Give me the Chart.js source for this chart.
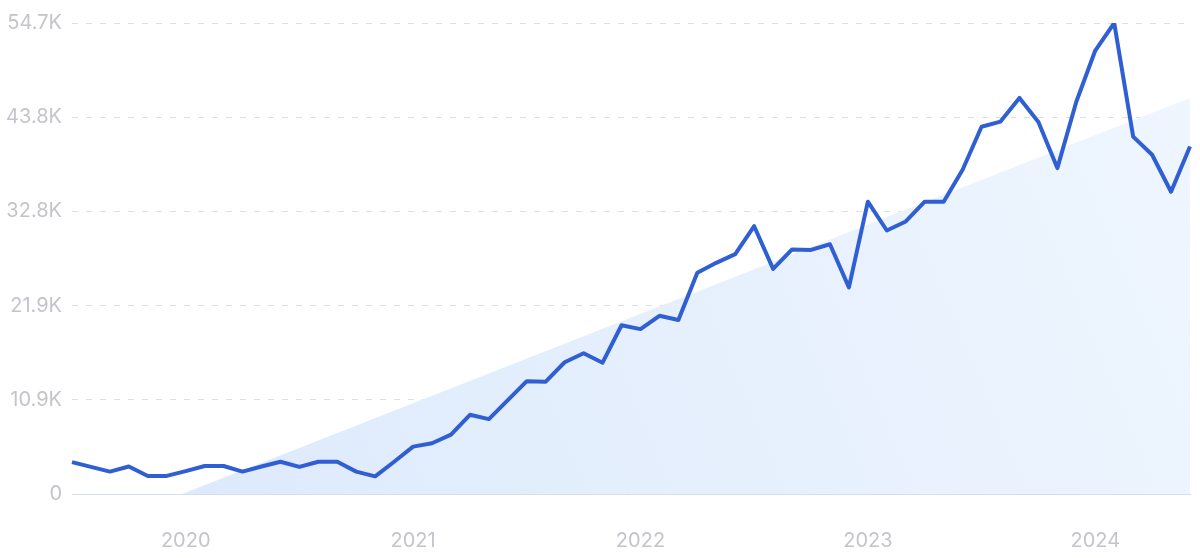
<!DOCTYPE html>
<html>
<head>
<meta charset="utf-8">
<script src="https://cdn.jsdelivr.net/npm/chart.js@4"></script>
<style>
    html, body { margin: 0; padding: 0; background: #ffffff; }
    #wrap { width: 1200px; height: 558px; }
</style>
</head>
<body>
<div id="wrap"><canvas id="trendChart" width="1200" height="558"></canvas></div>
<script>
// Monthly points, Jul 2019 .. Jun 2024
const months = [
    '2019-07', '2019-08', '2019-09', '2019-10', '2019-11', '2019-12',
    '2020-01', '2020-02', '2020-03', '2020-04', '2020-05', '2020-06',
    '2020-07', '2020-08', '2020-09', '2020-10', '2020-11', '2020-12',
    '2021-01', '2021-02', '2021-03', '2021-04', '2021-05', '2021-06',
    '2021-07', '2021-08', '2021-09', '2021-10', '2021-11', '2021-12',
    '2022-01', '2022-02', '2022-03', '2022-04', '2022-05', '2022-06',
    '2022-07', '2022-08', '2022-09', '2022-10', '2022-11', '2022-12',
    '2023-01', '2023-02', '2023-03', '2023-04', '2023-05', '2023-06',
    '2023-07', '2023-08', '2023-09', '2023-10', '2023-11', '2023-12',
    '2024-01', '2024-02', '2024-03', '2024-04', '2024-05', '2024-06'
];

// Search volume
const volume = [
    3700, 3150, 2600, 3200, 2100, 2100,
    2650, 3250, 3250, 2600, 3200, 3750,
    3150, 3750, 3750, 2600, 2050, 3750,
    5500, 5900, 6900, 9200, 8700, 10900,
    13100, 13050, 15300, 16350, 15250, 19600,
    19150, 20700, 20200, 25700, 26850, 27850,
    31100, 26150, 28400, 28350, 29000, 24000,
    33950, 30600, 31650, 33950, 33950, 37650,
    42650, 43250, 46000, 43200, 37850, 45550,
    51500, 54700, 41500, 39400, 35100, 40350
];

// Straight trend band: start and end
const trendMonths = ['2019-12', '2024-06'];
const trendValues = [-700, 46000];

const yTicks = [0, 10940, 21880, 32820, 43760, 54700];
const yTickLabels = ['0', '10.9K', '21.9K', '32.8K', '43.8K', '54.7K'];

const tickColor = '#c3c5cb';
const tickFont = { family: 'Inter', size: 20 };

const ctx = document.getElementById('trendChart').getContext('2d');
const trendChart = new Chart(ctx, {
    type: 'line',
    data: {
        labels: months,
        datasets: [{
            label: 'Volume',
            data: volume,
            borderColor: '#2f5fd3',
            borderWidth: 4,
            pointRadius: 0,
            tension: 0,
            fill: false,
            borderJoinStyle: 'round'
        }, {
            label: 'Trend',
            data: trendMonths.map((m, i) => ({ x: m, y: trendValues[i] })),
            borderWidth: 0,
            pointRadius: 0,
            tension: 0,
            fill: 'origin',
            backgroundColor: function(c) {
                const area = c.chart.chartArea;
                if (!area) return 'rgba(226,237,252,1)';
                const g = c.chart.ctx.createLinearGradient(area.left, area.bottom, area.right, area.top);
                g.addColorStop(0, 'rgba(220,233,252,1)');
                g.addColorStop(1, 'rgba(239,246,254,1)');
                return g;
            }
        }]
    },
    options: {
        responsive: false,
        animation: false,
        layout: { padding: { top: 23, right: 10, left: 0, bottom: 0 } },
        plugins: {
            legend: { display: false },
            tooltip: { enabled: false }
        },
        scales: {
            x: {
                type: 'category',
                offset: false,
                grid: { display: false, drawTicks: false },
                border: { display: true, color: '#d6dff0', width: 1 },
                ticks: {
                    autoSkip: false,
                    maxRotation: 0,
                    padding: 35,
                    color: tickColor,
                    font: tickFont,
                    callback: function(value, index) {
                        const m = months[index];
                        return m.endsWith('-01') ? m.slice(0, 4) : null;
                    }
                },
                afterFit: function(axis) { axis.height = 64; }
            },
            y: {
                min: 0,
                max: 54700,
                afterBuildTicks: function(axis) {
                    axis.ticks = yTicks.map(v => ({ value: v }));
                },
                grid: {
                    drawTicks: false,
                    color: function(c) {
                        return c.index === 0 ? 'rgba(0,0,0,0)' : '#d8e0ee';
                    },
                    lineWidth: 1
                },
                border: { display: false, dash: [6, 8] },
                ticks: {
                    padding: 10,
                    color: tickColor,
                    font: tickFont,
                    callback: function(value, index) { return yTickLabels[index]; }
                },
                afterFit: function(axis) { axis.width = 72; }
            }
        }
    }
});
</script>
</body>
</html>
